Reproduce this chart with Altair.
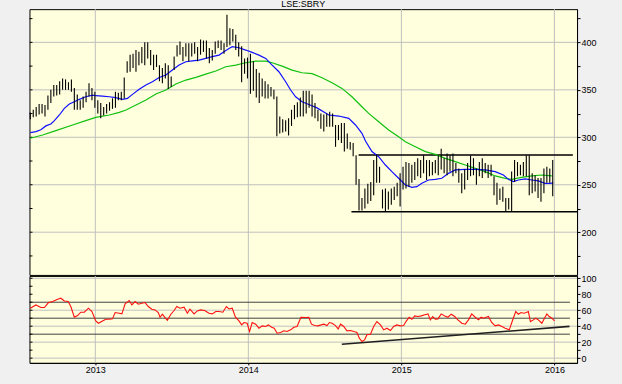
import altair as alt
import pandas as pd

title_text = "LSE:SBRY"
first_week = "2012-07-30"

# weekly high / low bars
bar_high = [326, 329, 332, 335, 335, 334, 344, 350, 355, 355, 359, 362, 361, 358, 361, 352, 345, 339, 343, 348,
            357, 352, 348, 339, 336, 332, 335, 337, 341, 348, 347, 348, 363, 380, 387, 388, 392, 390, 395, 400,
            400, 392, 387, 387, 376, 373, 378, 376, 364, 385, 397, 401, 395, 399, 399, 399, 400, 395, 403, 402,
            402, 394, 392, 401, 402, 402, 399, 429, 415, 414, 408, 400, 396, 383, 384, 388, 380, 372, 368, 362,
            359, 356, 353, 350, 343, 322, 319, 318, 320, 329, 334, 337, 342, 349, 349, 349, 345, 336, 329, 325,
            324, 325, 327, 325, 313, 313, 315, 315, 304, 295, 294, 281, 256, 236, 246, 251, 253, 276, 282, 269,
            245, 246, 243, 246, 248, 252, 262, 269, 274, 273, 271, 274, 278, 276, 281, 276, 276, 274, 276, 281,
            288, 278, 283, 281, 283, 273, 267, 262, 266, 273, 281, 278, 267, 274, 278, 273, 271, 271, 259, 252,
            246, 248, 236, 236, 264, 276, 274, 271, 274, 281, 281, 262, 260, 257, 257, 267, 269, 267, 276]
bar_low = [319, 321, 322, 324, 325, 322, 329, 336, 343, 344, 345, 350, 350, 350, 348, 329, 329, 329, 331, 337,
           343, 339, 331, 325, 320, 323, 325, 328, 330, 331, 339, 339, 341, 368, 369, 373, 369, 376, 378, 376,
           383, 376, 371, 374, 359, 357, 362, 351, 353, 371, 385, 387, 380, 385, 380, 385, 388, 380, 387, 390,
           383, 378, 381, 388, 394, 392, 388, 395, 397, 401, 392, 385, 358, 367, 362, 346, 349, 342, 336, 343,
           341, 341, 343, 340, 301, 304, 305, 306, 302, 312, 319, 321, 322, 322, 325, 331, 322, 320, 317, 309,
           306, 311, 311, 311, 290, 297, 294, 285, 288, 287, 280, 250, 223, 223, 225, 230, 233, 239, 252, 252,
           225, 222, 224, 229, 234, 238, 227, 245, 246, 248, 252, 255, 259, 257, 262, 255, 259, 260, 262, 260,
           266, 262, 260, 264, 259, 262, 252, 241, 245, 255, 259, 260, 250, 259, 257, 262, 257, 259, 239, 229,
           234, 232, 222, 224, 222, 253, 259, 260, 259, 259, 239, 241, 243, 236, 232, 241, 252, 252, 238]

# short moving average (blue), sampled: week offset, value
blue_week = [0, 1.9, 3.6, 5.3, 7, 8.2, 9.9, 11.6, 13.3, 15, 16.7, 18.9, 21.2, 22.3, 24.6, 26.9, 29.1, 31.4, 33.1, 34.8,
             37.1, 39.4, 41.6, 43.9, 46.2, 48.4, 50.7, 53, 55.2, 57.5, 59.8, 62, 64.3, 66, 67.7, 68.8, 71.1, 73.4, 75.6, 77.9,
             80.2, 82.4, 84.7, 87, 88.7, 90.4, 92.6, 94.9, 97.7, 101.7, 105.1, 108.5, 110.8, 113, 114.2, 116.4, 118.7, 121, 123.2, 125.5,
             127.8, 130, 131.7, 133.4, 135.7, 138, 140.2, 142.5, 144.8, 148.2, 151.6, 155, 158.4, 161.2, 162.9, 164.6, 166.3, 168.6, 170.9, 173.1,
             175.4, 177.1, 178.2]
blue_val = [305, 306, 308, 312, 314, 317.5, 323.5, 330.5, 335, 337.5, 340, 342.7, 344.5, 343.8, 343.4, 342.7, 341.7, 340, 341, 345.2,
            350.5, 355, 358.5, 363, 365.6, 370.8, 376.1, 379.6, 380.6, 381.3, 383.1, 384.9, 386.6, 390.1, 393.6, 395.4, 394.3, 391.9, 389.4, 386.6,
            383.1, 376.1, 369.1, 358.5, 349.8, 342.7, 337.5, 334.5, 331, 323.5, 322.4, 320, 313, 304.2, 296, 285, 279.6, 270.8, 263.8, 256.8,
            249.8, 247.3, 248, 251.5, 255, 255.7, 256.8, 262, 265.6, 266.3, 266.3, 265.6, 263.8, 260.3, 255.7, 253.3, 255, 256.1, 255, 254,
            251.5, 251.5, 251.9]

# long moving average (green)
green_week = [0, 4.2, 8.7, 14.4, 18.9, 22.3, 26.9, 30.3, 32.6, 36, 39.4, 42.8, 46.2, 49.6, 53, 56.4, 59.8, 63.2, 66.6, 70,
              73.4, 76.8, 80.2, 82.4, 85.8, 89.2, 92.6, 96, 99.4, 102.8, 106.2, 109.6, 113, 115.3, 118.7, 122.1, 125.5, 127.8, 131.2, 134.6,
              138, 141.4, 144.8, 148.2, 151.6, 155, 158.4, 161.8, 164, 167.4, 170.9, 174.3, 177.7]
green_val = [299, 302.4, 307, 312.9, 317.5, 321, 323.5, 326.3, 328.7, 334, 339.2, 345.6, 349.8, 356.1, 360.3, 363.1, 366.6, 369.8, 374.3, 376.1,
             378.5, 380.3, 380.3, 378.5, 375, 370.8, 368, 367, 362.7, 357.5, 351.5, 342.7, 332.2, 325.2, 316.4, 307.7, 300.6, 295.4, 290.1, 284.9,
             282, 277.8, 274.3, 270.8, 267.3, 263.8, 259.3, 256.8, 255.7, 257.8, 259.3, 260.3, 259.3]

# RSI (red)
rsi_week = [0, 1.9, 3.6, 4.8, 6.2, 7.6, 9.3, 10.4, 11.6, 12.9, 13.8, 15, 16.1, 17.2, 18.4, 19.8, 21, 22.3, 23.2, 24.6,
            25.7, 26.9, 28, 28.9, 30.3, 31.2, 32.3, 33.7, 34.6, 35.7, 36.8, 38, 39.1, 40.2, 41.4, 42.5, 43.6, 44.2, 45, 45.9,
            46.7, 47.9, 49, 49.9, 51, 52.4, 53.5, 54.4, 55.8, 56.9, 58, 59.4, 60.9, 62, 63.2, 64.3, 65.6, 66.8, 67.7, 68.8,
            69.9, 71.1, 72, 72.8, 73.9, 74.7, 75.6, 76.8, 77.9, 79, 80.2, 81.1, 82.2, 83.1, 84.1, 85.3, 86.4, 87.5, 88.7, 89.8,
            90.9, 92.2, 93.8, 94.9, 95.8, 96.9, 98, 100, 101.1, 101.9, 102.8, 104, 104.9, 105.7, 106.8, 107.9, 109.1, 110.2, 111.3, 112.1,
            113, 113.9, 114.7, 115.9, 117, 118.1, 119.3, 120.4, 121.5, 122.7, 123.8, 124.9, 126.1, 127.2, 128, 129.1, 130, 131, 132.1, 133.2,
            134.4, 135.5, 136.3, 137.1, 138, 138.9, 140, 141.2, 142.3, 143.4, 144.6, 145.7, 147, 148.2, 149.3, 150.4, 151.6, 152.7, 153.6, 154.4,
            155.3, 156.1, 157.2, 158.4, 159.5, 160.7, 161.8, 163.2, 164.3, 165.4, 166.3, 167.2, 168.1, 169, 169.7, 170.4, 171.4, 172.2, 173.1, 174.3,
            175.2, 176, 176.8, 177.7, 178.6]
rsi_val = [62.5, 66.6, 63.3, 63.3, 69.6, 70.8, 73.7, 75, 71.6, 70.8, 64.6, 51.2, 53.3, 57.5, 57.5, 62.5, 58.3, 46.6, 43.7, 46.6,
           48.7, 48.7, 49.2, 57.1, 56.2, 55.4, 67.9, 72.1, 66.6, 70.8, 67.5, 68.7, 69.6, 64.6, 61.2, 60.4, 57.1, 51.2, 55, 50.8,
           47.5, 55, 59.6, 64.6, 62.5, 63.7, 56.2, 61.2, 55.4, 59.1, 60.4, 59.6, 56.2, 55.4, 58.3, 58.3, 57.5, 64.6, 61.6, 62.5,
           51.2, 46.6, 41.6, 44.6, 43.7, 33.3, 44.6, 42.5, 37.5, 40.4, 39.6, 41.6, 38.7, 37.5, 31.2, 32.1, 34.2, 33.3, 35.4, 38.7,
           39.6, 51.2, 50.8, 51.2, 42.5, 40.8, 40.4, 42.5, 40.8, 44.6, 43.7, 40.8, 36.6, 42.5, 39.6, 34.2, 34.6, 33.3, 32.1, 25,
           20.8, 22.9, 29.2, 30, 39.6, 45.8, 41.6, 35.4, 37.5, 34.6, 39.6, 41.6, 40.4, 40.8, 45.8, 51.2, 48.7, 52.9, 52.1, 52.9,
           54.2, 55.4, 47.9, 52.1, 48.7, 49.1, 55.4, 52.9, 51.2, 55, 52.1, 47.9, 43.7, 42.5, 47.9, 55.4, 51.2, 47.9, 51.2, 50,
           51.2, 52.1, 44.6, 40.4, 41.6, 39.6, 37.5, 35.4, 47.1, 58.3, 55, 57.1, 56.2, 57.1, 58.3, 45.8, 47.9, 50, 47.9, 43.7,
           50, 55.4, 52.1, 50, 46.6]

# drawn lines
channel_top = {"start": "2014-09-21", "end": "2016-02-14", "value": 281.4}
channel_bottom = {"start": "2014-09-04", "end": "2016-02-24", "value": 221.5}
rsi_trend_dates = ["2014-08-12", "2016-02-06"]
rsi_trend_vals = [17.3, 39.8]
rsi_ref_levels = [30, 50, 70]
rsi_ref_start = "2012-07-28"
rsi_ref_end = "2016-02-07"

year_ticks = ["2013-01-01", "2014-01-01", "2015-01-01", "2016-01-01"]
price_grid = [200, 250, 300, 350, 400]
price_ticks = [175, 200, 225, 250, 275, 300, 325, 350, 375, 400, 425]
rsi_grid = [0, 20, 40, 60, 100]
rsi_ticks = [0, 10, 20, 30, 40, 50, 60, 70, 80, 90, 100]

W, H1, H2 = 548, 266, 87
FONT = "Liberation Sans"
GRID = "#C0C0C0"

t0 = pd.Timestamp(first_week)
def wk(w):
    return t0 + pd.to_timedelta(w * 7, unit="D")

bars = pd.DataFrame({"date": [wk(i) for i in range(len(bar_high))], "high": bar_high, "low": bar_low})
blue = pd.DataFrame({"date": [wk(w) for w in blue_week], "v": blue_val})
green = pd.DataFrame({"date": [wk(w) for w in green_week], "v": green_val})
rsi = pd.DataFrame({"date": [wk(w) for w in rsi_week], "v": rsi_val})
years = pd.DataFrame({"date": pd.to_datetime(year_ticks)})
chan = pd.DataFrame({"date": pd.to_datetime([channel_top["start"], channel_bottom["start"]]),
                     "end": pd.to_datetime([channel_top["end"], channel_bottom["end"]]),
                     "v": [channel_top["value"], channel_bottom["value"]]})
trend = pd.DataFrame({"date": pd.to_datetime(rsi_trend_dates), "v": rsi_trend_vals})
refs = pd.DataFrame({"v": rsi_ref_levels,
                     "date": pd.to_datetime([rsi_ref_start] * len(rsi_ref_levels)),
                     "end": pd.to_datetime([rsi_ref_end] * len(rsi_ref_levels))})
pgrid = pd.DataFrame({"v": price_grid})
pticks = pd.DataFrame({"v": price_ticks})
rgrid = pd.DataFrame({"v": rsi_grid})
rticks = pd.DataFrame({"v": rsi_ticks})

xscale = alt.Scale(domain=[alt.DateTime(year=2012, month=7, date=28), alt.DateTime(year=2016, month=2, date=24)], nice=False)
yscale1 = alt.Scale(domain=[155, 435], nice=False, zero=False)
yscale2 = alt.Scale(domain=[-5.9, 102.9], nice=False, zero=False)

yaxis1 = alt.Axis(orient="right", values=price_ticks, labelExpr="datum.value % 50 == 0 ? datum.label : ''",
                  tickSize=3, labelPadding=1, grid=False, domainColor="black", tickColor="black",
                  labelFont=FONT, labelFontSize=9, labelColor="black", title=None, labelOverlap=False)
yaxis2 = alt.Axis(orient="right", values=rsi_ticks, labelExpr="datum.value % 20 == 0 ? datum.label : ''",
                  tickSize=3, labelPadding=1, grid=False, domainColor="black", tickColor="black",
                  labelFont=FONT, labelFontSize=9, labelColor="black", title=None, labelOverlap=False)
xaxis2 = alt.Axis(values=[alt.DateTime(year=y, month=1, date=1) for y in [2013, 2014, 2015, 2016]],
                  format="%Y", tickSize=2, labelPadding=1, grid=False, domainColor="black",
                  tickColor="black", labelFont=FONT, labelFontSize=9, labelColor="black",
                  title=None, labelFlush=False, labelOverlap=False)

# identical axis definitions in every layer so that merged axes keep these settings
def X1(f="date"):
    return alt.X(f"{f}:T", scale=xscale, axis=None)

def Y1(f="v"):
    return alt.Y(f"{f}:Q", scale=yscale1, axis=yaxis1)

def X2(f="date"):
    return alt.X(f"{f}:T", scale=xscale, axis=xaxis2)

def Y2(f="v"):
    return alt.Y(f"{f}:Q", scale=yscale2, axis=yaxis2)

# ---------- upper panel ----------
u_vgrid = alt.Chart(years).mark_rule(color=GRID, strokeWidth=1).encode(x=X1())
u_hgrid = alt.Chart(pgrid).mark_rule(color=GRID, strokeWidth=1).encode(y=Y1())
u_lticks = alt.Chart(pticks).mark_rule(color="black").encode(y=Y1(), x=alt.value(0), x2=alt.value(3))
u_chan = alt.Chart(chan).mark_rule(color="black", strokeWidth=1.5).encode(x=X1(), x2="end:T", y=Y1())
u_green = alt.Chart(green).mark_line(color="#10C010", strokeWidth=1.2).encode(x=X1(), y=Y1())
u_blue = alt.Chart(blue).mark_line(color="#1010FF", strokeWidth=1.2).encode(x=X1(), y=Y1())
u_bars = alt.Chart(bars).mark_rule(color="black", strokeWidth=1.1).encode(x=X1(), y=Y1("low"), y2="high:Q")
u_title = alt.Chart(pd.DataFrame({"t": [title_text]})).mark_text(
    baseline="top", align="center", fontSize=9, font=FONT, color="black").encode(
    text="t:N", x=alt.value(W / 2), y=alt.value(-9))

upper = alt.layer(u_vgrid, u_hgrid, u_lticks, u_chan, u_green, u_blue, u_bars, u_title).properties(
    width=W, height=H1)

# ---------- lower panel ----------
l_vgrid = alt.Chart(years).mark_rule(color=GRID, strokeWidth=1).encode(x=X2())
l_hgrid = alt.Chart(rgrid).mark_rule(color=GRID, strokeWidth=1).encode(y=Y2())
l_refs = alt.Chart(refs).mark_rule(color="#404040", strokeWidth=1).encode(x=X2(), x2="end:T", y=Y2())
l_lticks = alt.Chart(rticks).mark_rule(color="black").encode(y=Y2(), x=alt.value(0), x2=alt.value(3))
l_trend = alt.Chart(trend).mark_line(color="#202020", strokeWidth=1.6).encode(x=X2(), y=Y2())
l_rsi = alt.Chart(rsi).mark_line(color="#FF1010", strokeWidth=1.1).encode(x=X2(), y=Y2())

lower = alt.layer(l_vgrid, l_hgrid, l_refs, l_lticks, l_trend, l_rsi).properties(width=W, height=H2)

chart = alt.vconcat(upper, lower, spacing=-3).properties(
    background="#F0F0F0",
    padding={"left": 26.5, "top": -1, "right": 25, "bottom": 9},
).configure_view(stroke="black", strokeWidth=1, fill="#FFFFDD")

chart.save("out.html", embed_options={"renderer": "svg", "actions": False})
